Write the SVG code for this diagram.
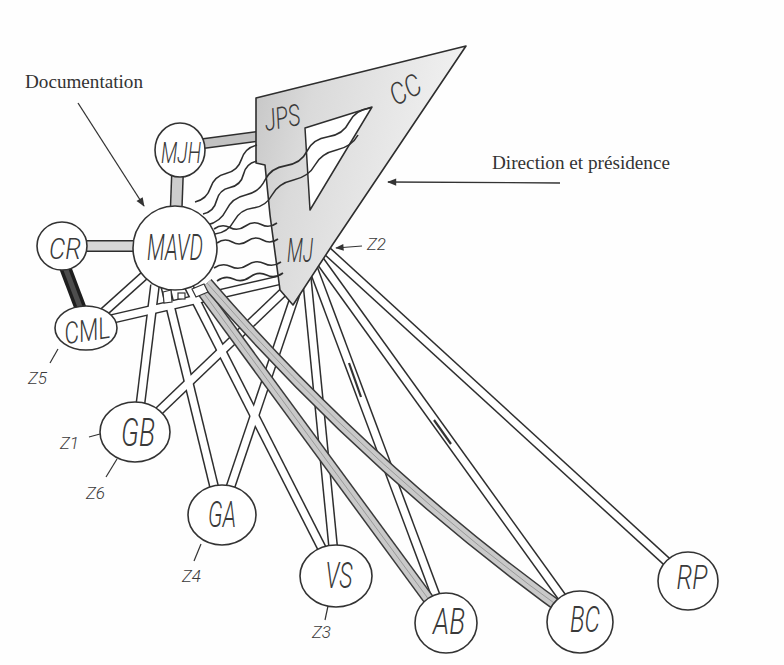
<svg xmlns="http://www.w3.org/2000/svg" width="784" height="665" viewBox="0 0 784 665">
<defs>
<style>
.o{fill:none;stroke:#2e2e2e;stroke-width:10}
.i{fill:none;stroke:#fff;stroke-width:7}
.go{fill:none;stroke:#3a3a3a;stroke-width:12}
.gi{fill:none;stroke:#c9c9c9;stroke-width:9}
.gc{fill:none;stroke:#9a9a9a;stroke-width:1}
.w{fill:none;stroke:#2e2e2e;stroke-width:1.6;stroke-linejoin:round}
.n{fill:#fff;stroke:#333;stroke-width:1.6}
.sq{fill:#fff;stroke:#333;stroke-width:1.2}
.h{font-family:Roboto,"Liberation Sans",Arial,sans-serif;font-weight:300;font-style:italic;fill:#3a3a3a;text-anchor:middle}
.z{font-family:Roboto,"Liberation Sans",Arial,sans-serif;font-weight:300;font-style:italic;font-size:17px;fill:#3a3a3a}
.a{font-family:"Liberation Serif","Times New Roman",serif;font-size:18px;fill:#333}
.t{fill:none;stroke:#333;stroke-width:1.2}
.ar{fill:none;stroke:#333;stroke-width:1.3}
</style>
<linearGradient id="gr" x1="0" y1="0" x2="1" y2="0.3">
<stop offset="0" stop-color="#c4c4c4"/>
<stop offset="0.3" stop-color="#dadada"/>
<stop offset="1" stop-color="#f3f3f3"/>
</linearGradient>
<marker id="ah" viewBox="0 0 10 10" refX="9" refY="5" markerWidth="8" markerHeight="7" orient="auto">
<path d="M0,1 L10,5 L0,9 Z" fill="#333"/>
</marker>
</defs>
<rect width="784" height="665" fill="#fefefe"/>

<g id="connectors">
<path class="o" d="M175,248 L86,328"/>
<path class="o" d="M298,276 L86,325"/>
<path class="o" d="M155,285 L137,432"/>
<path class="o" d="M298,278 L137,432"/>
<path class="o" d="M165,285 L221,515"/>
<path class="o" d="M302,275 L221,515"/>
<path class="o" d="M188,285 L336,576"/>
<path class="o" d="M306,270 L336,576"/>
<path class="o" d="M312,265 L446,623"/>
<path class="o" d="M318,258 L580,622"/>
<path class="o" d="M326,250 L688,581"/>
<path class="i" d="M175,248 L86,328"/>
<path class="i" d="M298,276 L86,325"/>
<path class="i" d="M155,285 L137,432"/>
<path class="i" d="M298,278 L137,432"/>
<path class="i" d="M165,285 L221,515"/>
<path class="i" d="M302,275 L221,515"/>
<path class="i" d="M188,285 L336,576"/>
<path class="i" d="M306,270 L336,576"/>
<path class="i" d="M312,265 L446,623"/>
<path class="i" d="M318,258 L580,622"/>
<path class="i" d="M326,250 L688,581"/>
<path d="M349,363 L361,397" stroke="#333" stroke-width="2.2"/>
<path d="M434,420 L451,444" stroke="#333" stroke-width="2.2"/>
<path class="go" d="M200,288 L446,623"/>
<path class="gi" d="M200,288 L446,623"/>
<path class="gc" d="M200,288 L446,623"/>
<path class="go" d="M207,283 Q373,475 580,622"/>
<path class="gi" d="M207,283 Q373,475 580,622"/>
<path class="gc" d="M207,283 Q373,475 580,622"/>
<path d="M178,160 L175,240" fill="none" stroke="#2e2e2e" stroke-width="13"/>
<path d="M178,160 L175,240" fill="none" stroke="#cdcdcd" stroke-width="10"/>
<path d="M70,246 L160,246" fill="none" stroke="#2e2e2e" stroke-width="12"/>
<path d="M70,246 L160,246" fill="none" stroke="#d6d6d6" stroke-width="9"/>
<path d="M57,246 L88,328" fill="none" stroke="#1e1e1e" stroke-width="12"/>
<path d="M57,246 L88,328" fill="none" stroke="#4d4d4d" stroke-width="5"/>
<path d="M185,146 L268,135" fill="none" stroke="#2e2e2e" stroke-width="11"/>
<path d="M185,146 L268,135" fill="none" stroke="#c2c2c2" stroke-width="8"/>
</g>

<g id="node-direction">
<path d="M256,98 L466,46 L333,244 L293,305 L280,290 L270,215 L265,165 L256,163 Z" fill="url(#gr)" stroke="#2e2e2e" stroke-width="1.6" stroke-linejoin="round"/>
<path d="M305,128 L372,107 L310,210 Z" fill="#fff" stroke="#2e2e2e" stroke-width="1.5" stroke-linejoin="round"/>
</g>

<g id="connectors-wavy">
<path class="w" d="M195,202 Q206.8,199.3 210.5,187.75 T226,173.5 T241.5,159.25 T257,145"/>
<path class="w" d="M203,214 Q213.95,211.7 216.5,200.75 T230,187.5 T243.5,174.25 T257,161"/>
<path class="w" d="M207,225 Q220.4,222.2 226.3,210 T245.7,195 T265,180 T286,165.6 T307,151.2 T328,136.8 T349,122.4 T370,108"/>
<path class="w" d="M215,234 Q227.9,232.5 234,221 T253,208 T272,195 T293.5,180 T315,165 T336.5,150 T358,135"/>
<path class="w" d="M214,229 Q221.9,223.25 229.75,227.5 T245.5,226 T261.25,224.5 T277,223"/>
<path class="w" d="M217,243 Q224.6,237.5 232.25,242 T247.5,241 T262.75,240 T278,239"/>
<path class="w" d="M214,268 Q222.4,262.25 230.75,266.5 T247.5,265 T264.25,263.5 T281,262"/>
<path class="w" d="M217,281 Q225.25,275 233.5,279 T250,277 T266.5,275 T283,273"/>
</g>

<g id="node-JPS"><text class="h" x="282" y="128" font-size="30" textLength="36" lengthAdjust="spacingAndGlyphs" transform="rotate(-10 282,117)">JPS</text></g>
<g id="node-CC"><text class="h" x="405" y="100" font-size="30" textLength="32" lengthAdjust="spacingAndGlyphs" transform="rotate(-28 405,89)">CC</text></g>
<g id="node-MJ"><text class="h" x="300" y="262" font-size="34" textLength="26" lengthAdjust="spacingAndGlyphs">MJ</text></g>

<g id="node-MJH">
<ellipse class="n" cx="180" cy="150" rx="25" ry="27"/>
<text class="h" x="181" y="163" font-size="30" textLength="40" lengthAdjust="spacingAndGlyphs">MJH</text>
</g>
<g id="node-MAVD">
<ellipse class="n" cx="175" cy="248" rx="42" ry="42"/>
<path class="sq" d="M163,292 L171,290 L172,302 L164,303 Z"/>
<rect class="sq" x="178" y="293" width="7" height="6"/>
<path class="sq" d="M192,289 L204,284 L208,292 L196,297 Z"/>
<text class="h" x="175" y="260" font-size="36" textLength="56" lengthAdjust="spacingAndGlyphs">MAVD</text>
</g>
<g id="node-CR">
<ellipse class="n" cx="62" cy="246" rx="25" ry="24"/>
<text class="h" x="65" y="259" font-size="30" textLength="32" lengthAdjust="spacingAndGlyphs">CR</text>
</g>
<g id="node-CML">
<ellipse class="n" cx="86" cy="328" rx="31" ry="22"/>
<text class="h" x="87" y="341" font-size="30" textLength="46" lengthAdjust="spacingAndGlyphs" transform="rotate(-8 87,330)">CML</text>
</g>
<g id="node-GB">
<ellipse class="n" cx="135" cy="432" rx="35" ry="30"/>
<text class="h" x="138" y="446" font-size="38" textLength="34" lengthAdjust="spacingAndGlyphs">GB</text>
</g>
<g id="node-GA">
<ellipse class="n" cx="222" cy="515" rx="34" ry="30"/>
<text class="h" x="222" y="527" font-size="36" textLength="28" lengthAdjust="spacingAndGlyphs">GA</text>
</g>
<g id="node-VS">
<ellipse class="n" cx="336" cy="576" rx="36" ry="31"/>
<text class="h" x="339" y="588" font-size="36" textLength="27" lengthAdjust="spacingAndGlyphs">VS</text>
</g>
<g id="node-AB">
<ellipse class="n" cx="446" cy="623" rx="31" ry="30"/>
<text class="h" x="449" y="634" font-size="36" textLength="32" lengthAdjust="spacingAndGlyphs">AB</text>
</g>
<g id="node-BC">
<ellipse class="n" cx="580" cy="622" rx="33" ry="31"/>
<text class="h" x="585" y="632" font-size="36" textLength="30" lengthAdjust="spacingAndGlyphs">BC</text>
</g>
<g id="node-RP">
<ellipse class="n" cx="688" cy="581" rx="30" ry="29"/>
<text class="h" x="692" y="589" font-size="34" textLength="31" lengthAdjust="spacingAndGlyphs">RP</text>
</g>

<g id="annotations">
<text class="a" x="25" y="88" textLength="118" lengthAdjust="spacingAndGlyphs">Documentation</text>
<path class="ar" d="M78,103 L144,206" marker-end="url(#ah)"/>
<text class="a" x="492" y="169" textLength="178" lengthAdjust="spacingAndGlyphs">Direction et présidence</text>
<path class="ar" d="M560,183 L388,182" marker-end="url(#ah)"/>
<path class="t" d="M362,246 L336,248" marker-end="url(#ah)"/>
<text class="z" x="367" y="250">Z2</text>
<path class="t" d="M58,349 L50,363"/>
<text class="z" x="28" y="384">Z5</text>
<path class="t" d="M100,434 L89,437"/>
<text class="z" x="60" y="449">Z1</text>
<path class="t" d="M117,459 L106,477"/>
<text class="z" x="86" y="499">Z6</text>
<path class="t" d="M201,544 L194,561"/>
<text class="z" x="182" y="582">Z4</text>
<path class="t" d="M328,606 L325,620"/>
<text class="z" x="312" y="638">Z3</text>
</g>
</svg>
